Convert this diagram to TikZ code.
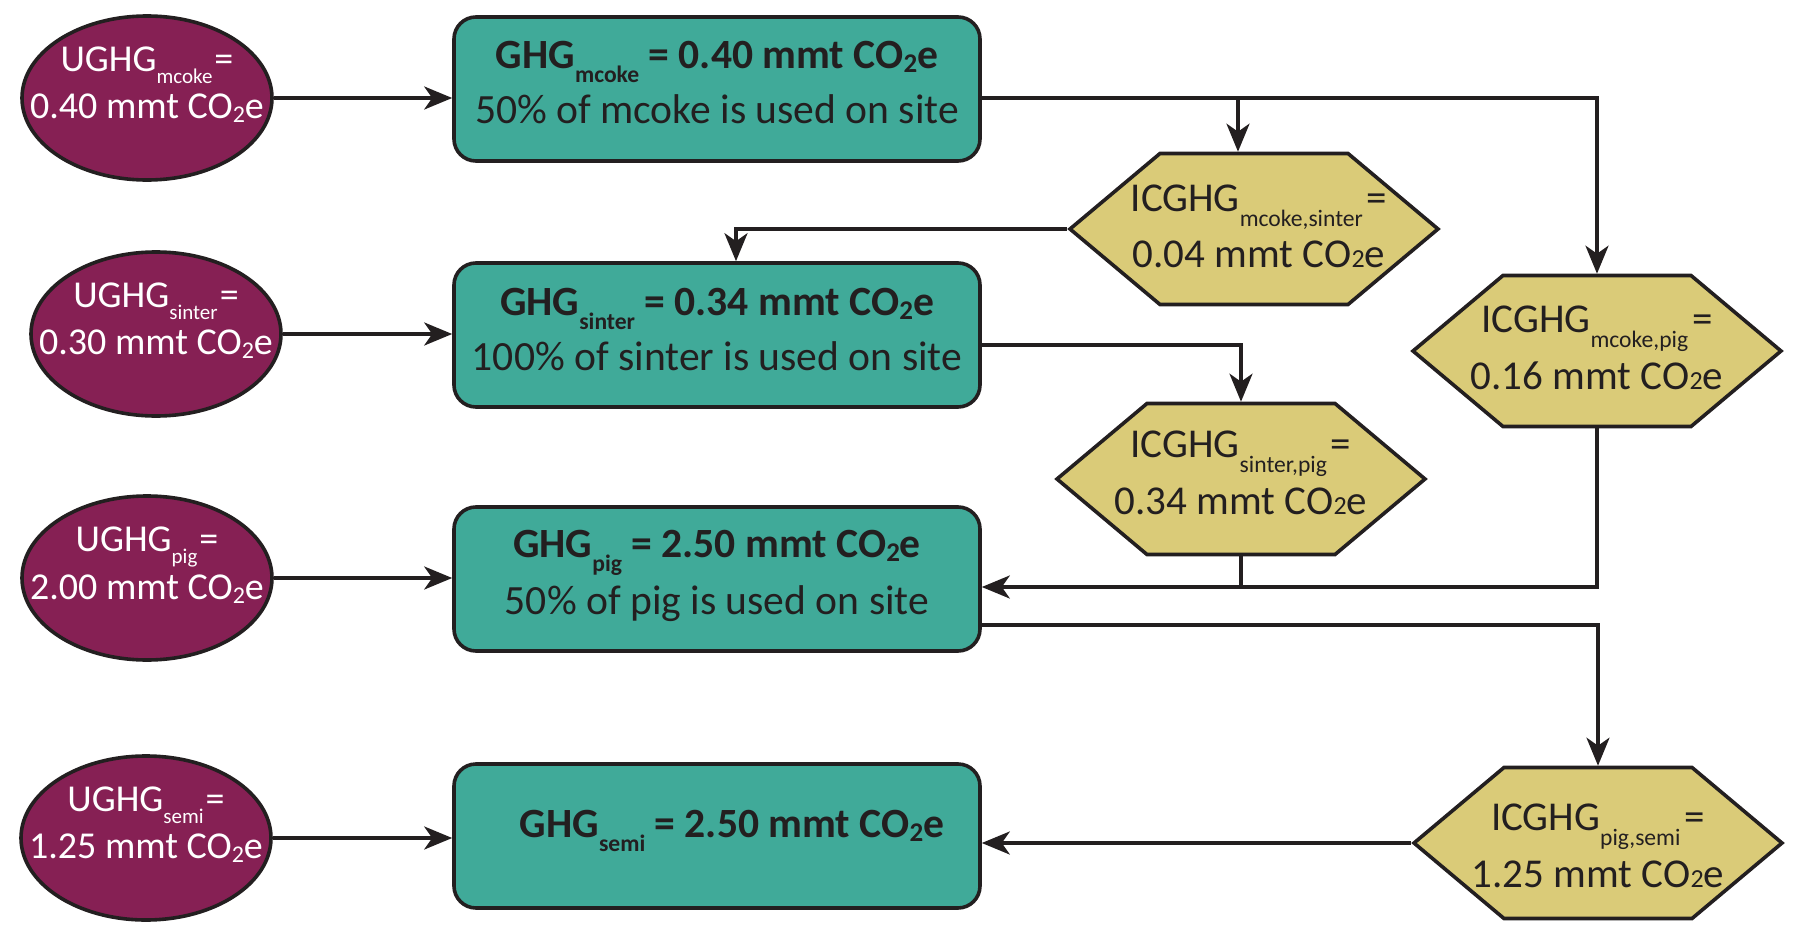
\documentclass[tikz,border=0pt]{standalone}
\usepackage{fontspec}
\setmainfont{Carlito}
\usetikzlibrary{shapes.geometric,shapes.symbols,arrows.meta,calc}
\definecolor{ugcol}{RGB}{134,32,84}
\definecolor{boxcol}{RGB}{64,170,153}
\definecolor{hexcol}{RGB}{218,203,120}
\definecolor{ink}{RGB}{35,31,32}
\newcommand{\ctext}[2]{\makebox[0pt]{\raisebox{#1}[\height][\depth]{\begin{tabular}{@{}c@{}}#2\end{tabular}}}}
\newcommand{\esub}[1]{\raisebox{-6pt}{\fontsize{10.5}{10.5}\selectfont #1}}
\newcommand{\bsub}[1]{\raisebox{-7pt}{\fontsize{11.8}{11.8}\selectfont #1}}
\newcommand{\hsub}[1]{\raisebox{-7.5pt}{\fontsize{11.8}{11.8}\selectfont #1}}
\newcommand{\etwo}{\raisebox{-2pt}{\fontsize{12}{12}\selectfont 2}}
\newcommand{\btwo}{\raisebox{-2pt}{\fontsize{13.5}{13.5}\selectfont 2}}
\newcommand{\htwo}{{\fontsize{13}{13}\selectfont 2}}
\begin{document}
\begin{tikzpicture}[x=0.5pt, y=-0.5pt,
  ug/.style={ellipse, draw=ink, line width=1.8pt, fill=ugcol, text=white,
    minimum width=125pt, minimum height=82pt, inner sep=0pt,
    font=\fontsize{19}{23.5}\selectfont},
  gbox/.style={rectangle, rounded corners=11pt, draw=ink, line width=1.8pt,
    fill=boxcol, text=ink, minimum width=263pt, minimum height=72pt, inner sep=0pt,
    font=\fontsize{20.8}{27.5}\selectfont},
  hexa/.style={signal, signal to=west and east, signal pointer angle=80,
    draw=ink, line width=1.8pt, fill=hexcol, text=ink,
    minimum width=184pt, minimum height=75.5pt, inner sep=0pt,
    font=\fontsize{20.5}{27}\selectfont},
  conn/.style={draw=ink, line width=1.8pt, -{Stealth[length=14pt,width=11.5pt,inset=4pt]}},
  plain/.style={draw=ink, line width=1.8pt}]
\useasboundingbox (0,0) rectangle (1800,937);

% source ellipses
\node[ug] (e1) at (147,98) {\ctext{6.3pt}{UGHG\esub{mcoke}\kern1pt=\\0.40 mmt CO\etwo e}};
\node[ug] (e2) at (156,334) {\ctext{6pt}{UGHG\esub{sinter}\kern1pt=\\0.30 mmt CO\etwo e}};
\node[ug] (e3) at (147,578) {\ctext{6pt}{UGHG\esub{pig}\kern1pt=\\2.00 mmt CO\etwo e}};
\node[ug] (e4) at (146,838) {\ctext{6.3pt}{UGHG\esub{semi}\kern1pt=\\1.25 mmt CO\etwo e}};

% GHG boxes
\node[gbox] (b1) at (717,89) {\ctext{2.2pt}{\textbf{GHG\bsub{mcoke} = 0.40 mmt CO\btwo e}\\50\% of mcoke is used on site}};
\node[gbox] (b2) at (717,335) {\ctext{1.5pt}{\textbf{GHG\bsub{sinter} = 0.34 mmt CO\btwo e}\\100\% of sinter is used on site}};
\node[gbox] (b3) at (717,579) {\ctext{2pt}{\textbf{GHG\bsub{pig} = 2.50 mmt CO\btwo e}\\50\% of pig is used on site}};
\node[gbox] (b4) at (717,836) {\ctext{4.75pt}{\hspace*{15pt}\textbf{GHG\bsub{semi} = 2.50 mmt CO\btwo e}}};

% ICGHG hexagons
\node[hexa] (h1) at (1254,229) {\ctext{0pt}{\hspace*{5pt}ICGHG\hsub{mcoke,sinter}\kern2pt=\\\hspace*{5pt}0.04 mmt CO\htwo e}};
\node[hexa] (h2) at (1597,351) {\ctext{0.5pt}{ICGHG\hsub{mcoke,pig}\kern2pt=\\0.16 mmt CO\htwo e}};
\node[hexa] (h3) at (1241,479) {\ctext{2pt}{ICGHG\hsub{sinter,pig}\kern2pt=\\0.34 mmt CO\htwo e}};
\node[hexa] (h4) at (1598,843) {\ctext{-2.5pt}{ICGHG\hsub{pig,semi}\kern2pt=\\1.25 mmt CO\htwo e}};

% connectors
\draw[conn] (e1.east) -- (e1.east -| b1.west);
\draw[conn] (e2.east) -- (e2.east -| b2.west);
\draw[conn] (e3.east) -- (e3.east -| b3.west);
\draw[conn] (e4.east) -- (e4.east -| b4.west);

\coordinate (b1o) at ($(b1.east)+(0,9)$);
\coordinate (h1in) at ($(h1.north)+(-16,0)$);
\draw[conn] (b1o) -| (h2.north);
\draw[conn] (b1o -| h1in) -- (h1in);

\coordinate (b2in) at ($(b2.north)+(19,0)$);
\draw[conn] (h1.west) -| (b2in);

\coordinate (b2o) at ($(b2.east)+(0,10)$);
\draw[conn] (b2o) -| (h3.north);

\coordinate (b3i) at ($(b3.east)+(0,8)$);
\draw[conn] (h2.south) |- (b3i);
\draw[plain] (h3.south) -- (h3.south |- b3i);

\coordinate (b3o) at ($(b3.east)+(0,46)$);
\draw[conn] (b3o) -| (h4.north);

\draw[conn] (h4.west) -- (h4.west -| b4.east);
\end{tikzpicture}
\end{document}
